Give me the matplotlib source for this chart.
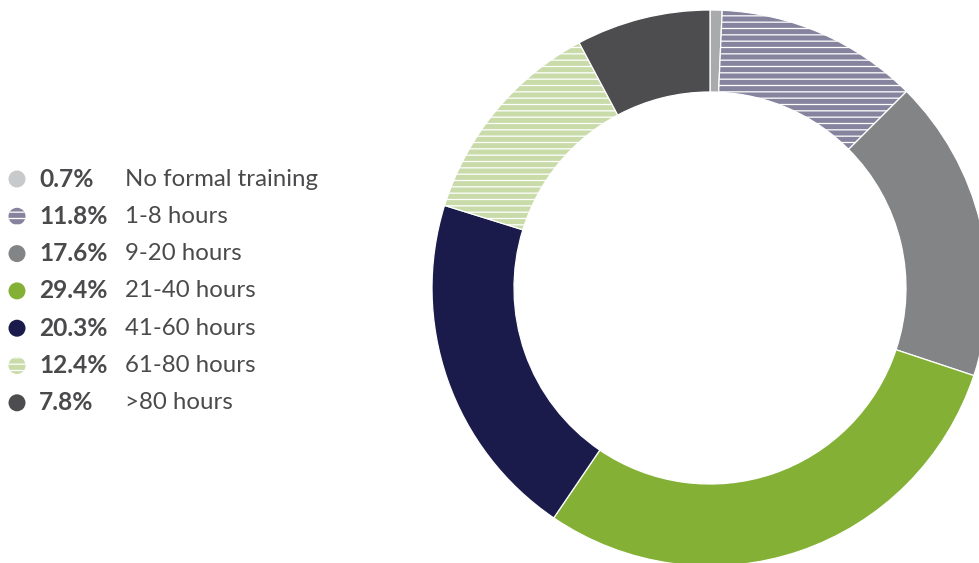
import matplotlib.pyplot as plt
from matplotlib.patches import Circle

# datos del gráfico
labels = ["No formal training", "1-8 hours", "9-20 hours", "21-40 hours",
          "41-60 hours", "61-80 hours", ">80 hours"]
shares = [0.7, 11.8, 17.6, 29.4, 20.3, 12.4, 7.8]
colors = ["#a9aaac", "#86839f", "#838486", "#84b135", "#1b1b4b", "#c8dba9", "#4d4d4f"]
legend_colors = ["#c8c9cb", "#86839f", "#838486", "#84b135", "#1b1b4b", "#c8dba9", "#4d4d4f"]
hatches = [None, "---", None, None, None, "---", None]

W, H, DPI = 980, 563, 114
TEXT = "#4a4a4c"

plt.rcParams["hatch.linewidth"] = 0.8

fig = plt.figure(figsize=(W / DPI, H / DPI), dpi=DPI)
ax = fig.add_axes([0, 0, 1, 1])

def py(y):
    # coordenadas de píxel (origen arriba) -> datos
    return H - y

wedges, _ = ax.pie(shares, colors=colors, startangle=90, counterclock=False,
                   radius=278, center=(710, py(288)),
                   wedgeprops=dict(width=82, edgecolor="white", linewidth=0.8))
for w, h in zip(wedges, hatches):
    if h:
        w.set_hatch(h)

ax.set_xlim(0, W)
ax.set_ylim(0, H)
ax.set_aspect("equal")
ax.axis("off")

# leyenda a mano
y0, step = 179, 37.3
for i, (lab, val) in enumerate(zip(labels, shares)):
    y = py(y0 + i * step)
    c = Circle((17, y), 8.5, facecolor=legend_colors[i], edgecolor="white" if hatches[i] else "none",
               linewidth=0, hatch=hatches[i])
    ax.add_patch(c)
    ax.text(39, y, f"{val}%", fontsize=15.5, fontweight="bold", family="Lato",
            color=TEXT, va="center", ha="left")
    ax.text(125, y, lab, fontsize=15.2, family="Lato", color=TEXT, va="center", ha="left")

fig.savefig("out.png", dpi=DPI)
